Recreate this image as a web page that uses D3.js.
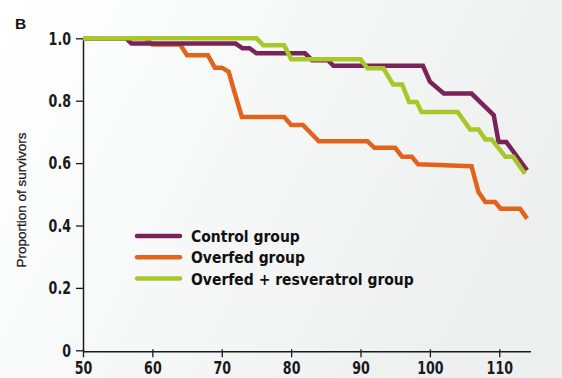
<!DOCTYPE html>
<html>
<head>
<meta charset="utf-8">
<script src="https://cdn.jsdelivr.net/npm/d3@7"></script>
<style>
  html, body { margin: 0; padding: 0; }
  body { width: 562px; height: 378px; overflow: hidden; }
  svg { display: block; }
</style>
</head>
<body>
<svg id="chart" width="562" height="378"></svg>
<script>
// Survival curves: [age, proportion surviving]
const controlGroup = [
  [50, 1.0], [56.2, 1.0], [57, 0.983], [72, 0.983], [73, 0.968], [74, 0.968],
  [75, 0.952], [82, 0.952], [83, 0.930], [85.3, 0.930], [86.1, 0.912],
  [99, 0.912], [100, 0.861], [102, 0.823], [106, 0.823], [109.2, 0.754],
  [109.9, 0.668], [111, 0.668], [114, 0.577]
];
const overfedGroup = [
  [50, 1.0], [59, 1.0], [60, 0.980], [64, 0.980], [65, 0.946], [68, 0.946],
  [69, 0.906], [70, 0.906], [71, 0.893], [71.6, 0.845], [72.9, 0.748],
  [79, 0.748], [80, 0.722], [81.7, 0.722], [84, 0.670], [91, 0.670],
  [92, 0.649], [95, 0.649], [96, 0.620], [97.4, 0.620], [98.3, 0.596],
  [106, 0.590], [107, 0.507], [108, 0.475], [109.4, 0.475], [110.2, 0.454],
  [113, 0.454], [114, 0.422]
];
const resveratrolGroup = [
  [50, 1.0], [75, 1.0], [76, 0.978], [79, 0.978], [80, 0.933], [90, 0.933],
  [91, 0.904], [93.3, 0.904], [94.7, 0.852], [96, 0.852], [97, 0.796],
  [98.1, 0.796], [98.8, 0.764], [104, 0.764], [105.8, 0.708], [107, 0.708],
  [108, 0.676], [108.9, 0.676], [110.9, 0.620], [112, 0.620], [113.7, 0.566]
];

const seriesNames = ["Control group", "Overfed group", "Overfed + resveratrol group"];
const seriesColors = ["#7a2358", "#e2641c", "#a8c82a"];
const xTicks = [50, 60, 70, 80, 90, 100, 110];
const yTicks = [0, 0.2, 0.4, 0.6, 0.8, 1.0];
const yTickLabels = ["0", "0.2", "0.4", "0.6", "0.8", "1.0"];

const svg = d3.select("#chart");
const W = 562, H = 378;
const margin = { left: 83, right: 31.5, top: 38.3, bottom: 27.7 };

// soft background wash
const defs = svg.append("defs");
const grad = defs.append("linearGradient")
  .attr("id", "bg").attr("x1", "0").attr("y1", "0").attr("x2", "1").attr("y2", "0.35");
grad.append("stop").attr("offset", "0").attr("stop-color", "#ffffff");
grad.append("stop").attr("offset", "0.45").attr("stop-color", "#f7f8f8");
grad.append("stop").attr("offset", "1").attr("stop-color", "#eef0f0");
svg.append("rect").attr("width", W).attr("height", H).attr("fill", "url(#bg)");

const x = d3.scaleLinear().domain([50, 114.5]).range([margin.left, W - margin.right]);
const y = d3.scaleLinear().domain([0, 1]).range([H - margin.bottom, margin.top]);

const tickFont = "'DejaVu Sans Condensed', 'Liberation Sans Narrow', sans-serif";

// squeeze a text element horizontally to give a narrow typeface look
function narrow(sel, factor) {
  sel.each(function () {
    const len = this.getComputedTextLength();
    d3.select(this).attr("textLength", len * factor).attr("lengthAdjust", "spacingAndGlyphs");
  });
}

// x axis
const xAxis = svg.append("g")
  .attr("transform", `translate(0,${y(0) + 1})`)
  .call(d3.axisBottom(x).tickValues(xTicks).tickSize(6).tickSizeOuter(0).tickPadding(4));
xAxis.select(".domain").attr("stroke", "#1a1a1a").attr("stroke-width", 1.5);
xAxis.selectAll(".tick line").attr("stroke", "#1a1a1a").attr("stroke-width", 1.3)
  .attr("y1", -2);
xAxis.selectAll(".tick text")
  .attr("font-family", tickFont).attr("font-weight", "bold")
  .attr("font-size", 18).attr("fill", "#1a1a1a")
  .call(narrow, 0.78);

// y axis
const yAxis = svg.append("g")
  .attr("transform", `translate(${margin.left},0)`)
  .call(d3.axisLeft(y).tickValues(yTicks).tickFormat((d, i) => yTickLabels[i])
    .tickSize(7).tickSizeOuter(0).tickPadding(5));
yAxis.select(".domain").attr("stroke", "#1a1a1a").attr("stroke-width", 1.5);
yAxis.selectAll(".tick line").attr("stroke", "#1a1a1a").attr("stroke-width", 1.3);
yAxis.selectAll(".tick text")
  .attr("font-family", tickFont).attr("font-weight", "bold")
  .attr("font-size", 18).attr("fill", "#1a1a1a")
  .call(narrow, 0.78);

// axis title
svg.append("text")
  .attr("transform", `translate(26,200) rotate(-90)`)
  .attr("text-anchor", "middle")
  .attr("font-family", "'Liberation Sans', Arial, sans-serif")
  .attr("font-size", 13.5).attr("fill", "#1a1a1a")
  .attr("stroke", "#1a1a1a").attr("stroke-width", 0.25)
  .text("Proportion of survivors");

// panel letter
svg.append("text")
  .attr("x", 15).attr("y", 29)
  .attr("font-family", "'Liberation Sans', Arial, sans-serif")
  .attr("font-weight", "bold").attr("font-size", 15.5).attr("fill", "#111")
  .text("B");

// survival lines
const line = d3.line().x(d => x(d[0])).y(d => y(d[1]));
const allSeries = [controlGroup, overfedGroup, resveratrolGroup];
const drawOrder = [1, 0, 2];
drawOrder.forEach(i => {
  svg.append("path")
    .datum(allSeries[i])
    .attr("fill", "none")
    .attr("stroke", seriesColors[i])
    .attr("stroke-width", 4.5)
    .attr("stroke-linejoin", "miter")
    .attr("stroke-linecap", "butt")
    .attr("d", line);
});

// legend
const legend = svg.append("g").attr("transform", "translate(137,236)");
seriesNames.forEach((name, i) => {
  const g = legend.append("g").attr("transform", `translate(0,${i * 21.3})`);
  g.append("line")
    .attr("x1", 0).attr("x2", 43).attr("y1", 0).attr("y2", 0)
    .attr("stroke", seriesColors[i]).attr("stroke-width", 4.5)
    .attr("stroke-linecap", "round");
  g.append("text")
    .attr("x", 54).attr("y", 6)
    .attr("font-family", tickFont).attr("font-weight", "bold")
    .attr("font-size", 15.5).attr("fill", "#111")
    .text(name);
});
</script>
</body>
</html>
